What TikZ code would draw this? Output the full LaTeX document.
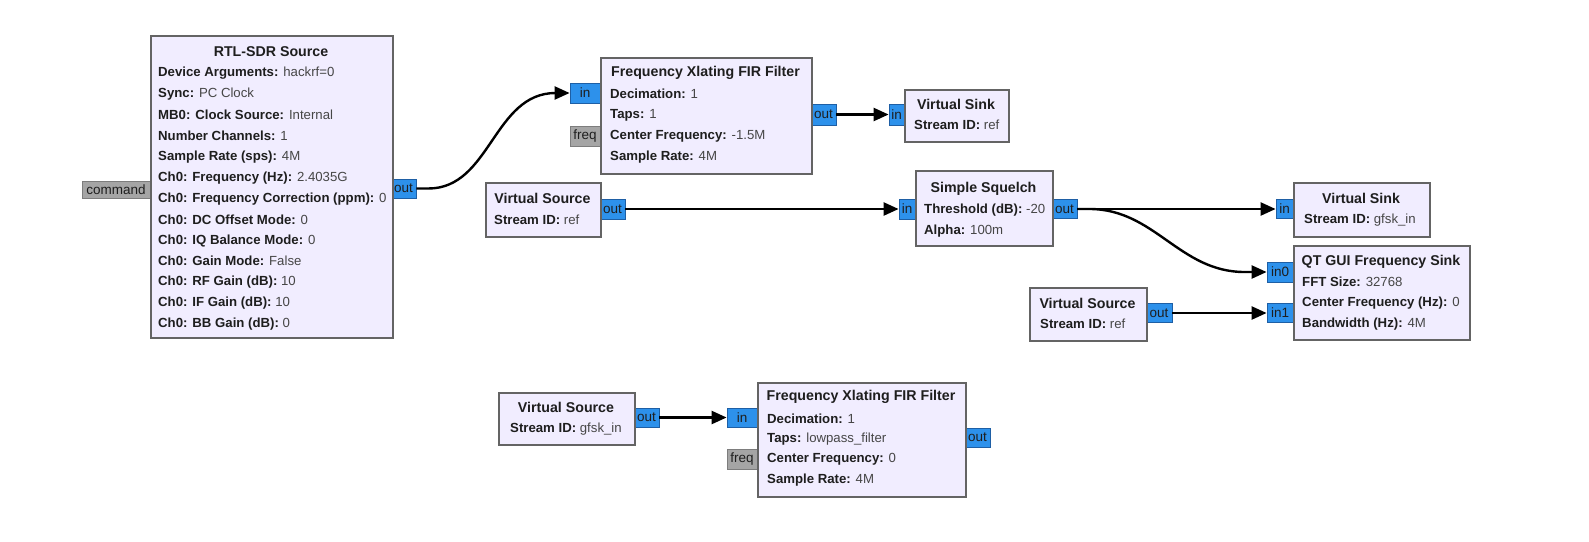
\documentclass[tikz,border=0pt]{standalone}
\usepackage{fontspec}
\setmainfont{Liberation Sans}
\usetikzlibrary{arrows.meta,calc}
\definecolor{blkfill}{RGB}{241,237,255}
\definecolor{blkborder}{RGB}{100,100,100}
\definecolor{portfill}{RGB}{45,145,235}
\definecolor{portborder}{RGB}{30,95,165}
\definecolor{msgfill}{RGB}{165,165,165}
\definecolor{msgborder}{RGB}{125,125,125}
\definecolor{textdark}{RGB}{30,30,30}
\definecolor{textval}{RGB}{70,70,70}
\newcommand{\lbl}[1]{\textcolor{textdark}{\bfseries #1}}
\tikzset{
  blk/.style={draw=blkborder, fill=blkfill, line width=2.4pt, inner sep=0pt, anchor=north west},
  port/.style={draw=portborder, fill=portfill, line width=0.8pt, inner sep=0pt,
    font=\fontsize{13.5}{14}\selectfont, text=textdark},
  msgport/.style={draw=msgborder, fill=msgfill, line width=0.8pt, inner sep=0pt,
    font=\fontsize{13.5}{14}\selectfont, text=textdark},
  ttl/.style={font=\bfseries\fontsize{14.2}{16}\selectfont, text=textdark, inner sep=0pt},
  prm/.style={font=\fontsize{13.2}{15}\selectfont, text=textval, anchor=west, inner sep=0pt},
  wire/.style={line width=2.4pt, draw=black, -{Triangle[length=15pt,width=13pt]}},
}
\begin{document}
\begin{tikzpicture}[x=1pt,y=-1pt]
\fill[white] (0,0) rectangle (1589,541);
\useasboundingbox (0,0) rectangle (1589,541);

% ---------- ports ----------
\node[msgport, minimum width=68pt, minimum height=17pt] (rtlcmd) at (116,189.5) {command};
\node[port, minimum width=25pt, minimum height=19pt] (rtlout) at (403.5,188.5) {out};

\node[port, minimum width=30pt, minimum height=20pt] (fxin) at (585,93) {in};
\node[msgport, minimum width=30pt, minimum height=20pt] (fxfreq) at (585,136) {freq};
\node[port, minimum width=25pt, minimum height=21pt] (fxout) at (823.5,114.5) {out};

\node[port, minimum width=15pt, minimum height=21pt] (vsaIn) at (896.5,114.5) {in};

\node[port, minimum width=25pt, minimum height=20pt] (vsrcaOut) at (612.5,209) {out};

\node[port, minimum width=16pt, minimum height=20pt] (sqIn) at (907,209) {in};
\node[port, minimum width=25pt, minimum height=19pt] (sqOut) at (1064.5,209) {out};

\node[port, minimum width=17pt, minimum height=19pt] (vsbIn) at (1284.5,209) {in};

\node[port, minimum width=26pt, minimum height=20pt] (qtIn0) at (1280,272) {in0};
\node[port, minimum width=26pt, minimum height=19pt] (qtIn1) at (1280,313) {in1};

\node[port, minimum width=26pt, minimum height=19pt] (vsrcbOut) at (1159,313) {out};

\node[port, minimum width=25pt, minimum height=19pt] (vsrccOut) at (646.5,417.5) {out};

\node[port, minimum width=30pt, minimum height=19pt] (fxbIn) at (742,417.5) {in};
\node[msgport, minimum width=30pt, minimum height=20pt] (fxbFreq) at (742,459) {freq};
\node[port, minimum width=25pt, minimum height=19pt] (fxbOut) at (977.5,437.5) {out};

% ---------- blocks ----------
% RTL-SDR Source
\node[blk, minimum width=242pt, minimum height=302pt] (rtl) at (150,35) {};
\node[ttl] (rtlT) at (271,52) {RTL-SDR Source};
\node[prm] (rtl1) at (158,73) {\lbl{Device Arguments:} hackrf=0};
\node[prm] (rtl2) at (158,94) {\lbl{Sync:} PC Clock};
\node[prm] (rtl3) at (158,115) {\lbl{MB0: Clock Source:} Internal};
\node[prm] (rtl4) at (158,136) {\lbl{Number Channels:} 1};
\node[prm] (rtl5) at (158,157) {\lbl{Sample Rate (sps):} 4M};
\node[prm] (rtl6) at (158,178) {\lbl{Ch0: Frequency (Hz):} 2.4035G};
\node[prm] (rtl7) at (158,199) {\lbl{Ch0: Frequency Correction (ppm):} 0};
\node[prm] (rtl8) at (158,220) {\lbl{Ch0: DC Offset Mode:} 0};
\node[prm] (rtl9) at (158,241) {\lbl{Ch0: IQ Balance Mode:} 0};
\node[prm] (rtl10) at (158,261) {\lbl{Ch0: Gain Mode:} False};
\node[prm] (rtl11) at (158,282) {\lbl{Ch0: RF Gain (dB):} 10};
\node[prm] (rtl12) at (158,303) {\lbl{Ch0: IF Gain (dB):} 10};
\node[prm] (rtl13) at (158,324) {\lbl{Ch0: BB Gain (dB):} 0};

% Frequency Xlating FIR Filter (top)
\node[blk, minimum width=211pt, minimum height=116pt] (fx) at (600,57) {};
\node[ttl] (fxT) at (705.5,73) {Frequency Xlating FIR Filter};
\node[prm] (fx1) at (610,94) {\lbl{Decimation:} 1};
\node[prm] (fx2) at (610,115) {\lbl{Taps:} 1};
\node[prm] (fx3) at (610,136) {\lbl{Center Frequency:} -1.5M};
\node[prm] (fx4) at (610,157) {\lbl{Sample Rate:} 4M};

% Virtual Sink (top)
\node[blk, minimum width=104pt, minimum height=52pt] (vsa) at (904,89) {};
\node[ttl] (vsaT) at (956,104) {Virtual Sink};
\node[prm] (vsa1) at (914,125) {\lbl{Stream ID:} ref};

% Virtual Source (middle)
\node[blk, minimum width=115pt, minimum height=54pt] (vsrca) at (485,182) {};
\node[ttl] (vsrcaT) at (542.5,198) {Virtual Source};
\node[prm] (vsrca1) at (494,220) {\lbl{Stream ID:} ref};

% Simple Squelch
\node[blk, minimum width=137pt, minimum height=75pt] (sq) at (915,170) {};
\node[ttl] (sqT) at (983.5,189) {Simple Squelch};
\node[prm] (sq1) at (924,210) {\lbl{Threshold (dB):} -20};
\node[prm] (sq2) at (924,231) {\lbl{Alpha:} 100m};

% Virtual Sink (right)
\node[blk, minimum width=136pt, minimum height=54pt] (vsb) at (1293,182) {};
\node[ttl] (vsbT) at (1361,198) {Virtual Sink};
\node[prm] (vsb1) at (1304,220) {\lbl{Stream ID:} gfsk\_in};

% QT GUI Frequency Sink
\node[blk, minimum width=176pt, minimum height=94pt] (qt) at (1293,245) {};
\node[ttl] (qtT) at (1381,262) {QT GUI Frequency Sink};
\node[prm] (qt1) at (1302,282) {\lbl{FFT Size:} 32768};
\node[prm] (qt2) at (1302,303) {\lbl{Center Frequency (Hz):} 0};
\node[prm] (qt3) at (1302,324) {\lbl{Bandwidth (Hz):} 4M};

% Virtual Source (right)
\node[blk, minimum width=117pt, minimum height=53pt] (vsrcb) at (1029,287) {};
\node[ttl] (vsrcbT) at (1087.5,303) {Virtual Source};
\node[prm] (vsrcb1) at (1040,324) {\lbl{Stream ID:} ref};

% Virtual Source (bottom)
\node[blk, minimum width=136pt, minimum height=52pt] (vsrcc) at (498,392) {};
\node[ttl] (vsrccT) at (566,407) {Virtual Source};
\node[prm] (vsrcc1) at (510,429) {\lbl{Stream ID:} gfsk\_in};

% Frequency Xlating FIR Filter (bottom)
\node[blk, minimum width=208pt, minimum height=114pt] (fxb) at (757,382) {};
\node[ttl] (fxbT) at (861,397) {Frequency Xlating FIR Filter};
\node[prm] (fxb1) at (767,419) {\lbl{Decimation:} 1};
\node[prm] (fxb2) at (767,439) {\lbl{Taps:} lowpass\_filter};
\node[prm] (fxb3) at (767,459) {\lbl{Center Frequency:} 0};
\node[prm] (fxb4) at (767,480) {\lbl{Sample Rate:} 4M};

% ---------- connections ----------
\draw[wire] (rtlout.east) -- ++(12,0) to[out=0,in=180] ($(fxin.west)+(-14,0)$) -- (fxin.west);
\draw[wire] (fxout.east) -- (vsaIn.west);
\draw[wire] (vsrcaOut.east) -- (sqIn.west);
\draw[wire] (sqOut.east) -- (vsbIn.west);
\draw[wire] (sqOut.east) -- ++(12,0) to[out=0,in=180] ($(qtIn0.west)+(-22,0)$) -- (qtIn0.west);
\draw[wire] (vsrcbOut.east) -- (qtIn1.west);
\draw[wire] (vsrccOut.east) -- (fxbIn.west);
\end{tikzpicture}
\end{document}
